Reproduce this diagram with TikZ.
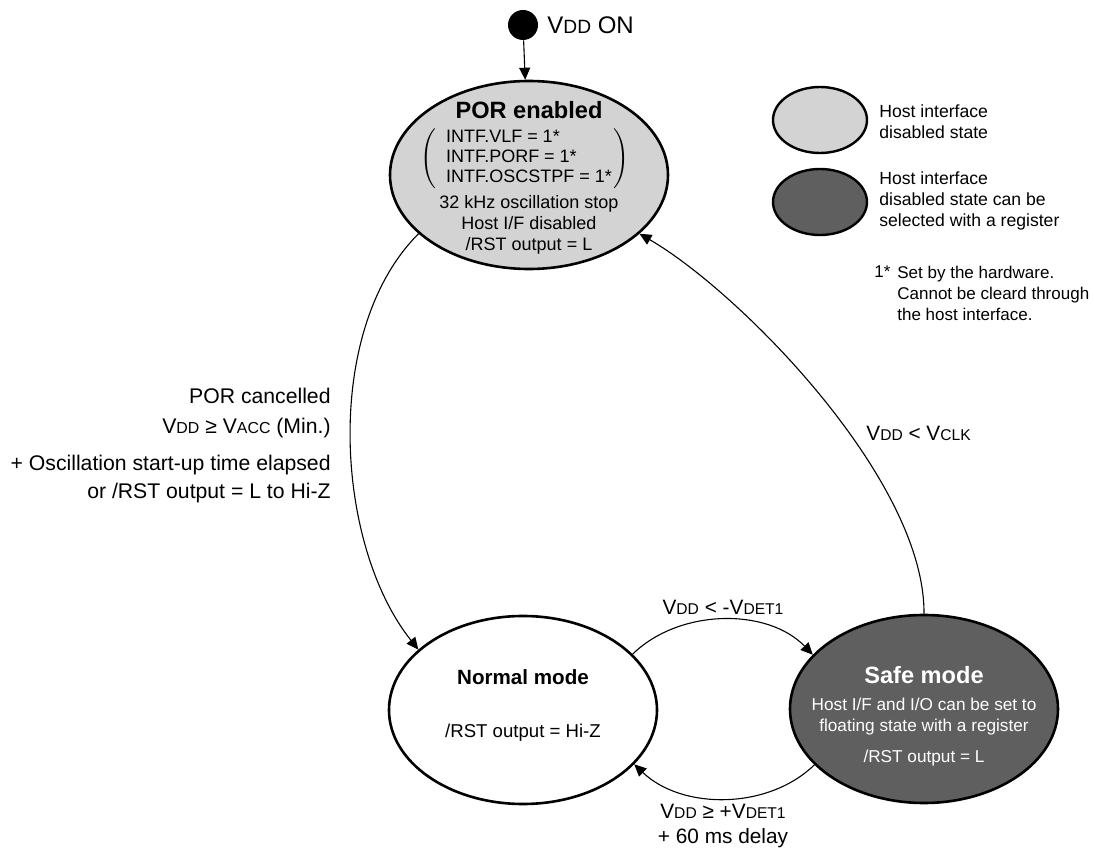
\documentclass[tikz,border=0pt]{standalone}
\usepackage{fontspec}
\setmainfont{Liberation Sans}
\usetikzlibrary{positioning,calc,shapes.geometric,arrows.meta}
\definecolor{HostOff}{RGB}{211,211,211}
\definecolor{HostSel}{RGB}{95,95,95}
\newcommand{\lowcaps}[1]{\scalebox{0.75}{#1}}
\newcommand{\Vdd}{V\lowcaps{DD}}

\begin{document}
\begin{tikzpicture}[x=0.5pt, y=-0.5pt,
        % --- STYLE ---
        % state ellipses
        state/.style={
            ellipse,
            draw=black,
            line width=1.3pt,
            minimum width=134pt,
            minimum height=94pt,
            inner sep=0pt
        },
        % small ellipses of the key
        key/.style={
            ellipse,
            draw=black,
            line width=1.2pt,
            minimum width=47pt,
            minimum height=33pt,
            inner sep=0pt
        },
        title/.style={font=\bfseries\fontsize{11.8}{13}\selectfont, inner sep=0pt},
        body/.style={font=\fontsize{9}{10.5}\selectfont, align=center, inner sep=0pt},
        note/.style={font=\fontsize{8.8}{10.5}\selectfont, align=left, anchor=west, inner sep=0pt},
        cond/.style={font=\fontsize{10.4}{12.5}\selectfont, align=center, inner sep=0pt},
        % transitions
        trans/.style={
            -{Triangle[length=6pt,width=5.5pt]},
            line width=0.55pt
        }
    ]
        \useasboundingbox (0,0) rectangle (1094,850);

        % --- STATES ---
        \node[circle, fill=black, minimum size=15pt, inner sep=0pt] (start) at (523,25) {};
        \node[cond, anchor=west, font=\fontsize{12}{14}\selectfont] (starttxt) at (547,25) {V\scalebox{0.8}{DD} ON};
        \node[state, fill=HostOff, minimum width=139pt] (por) at (529,175) {};
        \node[state, fill=white] (normal) at (523,710) {};
        \node[state, fill=HostSel] (safe) at (924,709) {};

        % POR enabled
        \node[title] (portitle) at (529,110) {POR enabled};
        \node[body, font=\fontsize{9}{10}\selectfont] (porflags) at (525,159)
            {$\left(\begin{tabular}{@{\hspace{5pt}}l@{\hspace{1pt}}}INTF.VLF = 1*\\INTF.PORF = 1*\\INTF.OSCSTPF = 1*\end{tabular}\right)$};
        \node[body] (porinfo) at (529,225) {32 kHz oscillation stop\\Host I/F disabled\\/RST output = L};

        % Normal mode
        \node[title, font=\bfseries\fontsize{10.3}{12}\selectfont] (normaltitle) at (523,677) {Normal mode};
        \node[body, font=\fontsize{9.3}{11}\selectfont] (normalrst) at (523,733) {/RST output = Hi-Z};

        % Safe mode
        \node[title, text=white] (safetitle) at (924,675) {Safe mode};
        \node[body, text=white, font=\fontsize{8.6}{10.5}\selectfont] (safeio) at (924,717) {Host I/F and I/O can be set to\\floating state with a register};
        \node[body, text=white, font=\fontsize{8.6}{10.5}\selectfont] (saferst) at (924,758) {/RST output = L};

        % --- KEY ---
        \node[key, fill=HostOff] (keyoff) at (820,120) {};
        \node[key, fill=HostSel] (keysel) at (820,202) {};
        \node[note] (keyofftxt) at (879,122) {Host interface\\disabled state};
        \node[note] (keyseltxt) at (879,201) {Host interface\\disabled state can be\\selected with a register};
        \node[note, font=\fontsize{8.5}{10.5}\selectfont] (fnmark) at (874,272) {1*};
        \node[note, font=\fontsize{8.5}{10.5}\selectfont] (fntext) at (897,293) {Set by the hardware.\\Cannot be cleard through\\the host interface.};

        % --- TRANSITIONS ---
        \draw[trans] (start) -- (por);
        \draw[trans] (por.208) .. controls (322,330) and (335,545) .. (normal.150);
        \draw[trans] (normal.27) .. controls (680,608) and (768,608) .. (safe.154);
        \draw[trans] (safe.207) .. controls (768,810) and (682,810) .. (normal.-26);
        \draw[trans] (safe.north) .. controls (925,480) and (740,292) .. (por.-28);

        % --- CONDITIONS ---
        \node[cond] (downlbl) at (723,607) {\Vdd{} < -V\lowcaps{DET1}};
        \node[cond] (uplbl) at (723,826) {\Vdd{} ≥ +V\lowcaps{DET1}\\+ 60 ms delay};
        \node[cond, anchor=west] (clklbl) at (866,433) {\Vdd{} < V\lowcaps{CLK}};
        \node[cond, align=right, anchor=east, font=\fontsize{10.6}{15}\selectfont] (porlbl) at (331,413)
            {POR cancelled\\\Vdd{} ≥ V\lowcaps{ACC} (Min.)};
        \node[cond, align=right, anchor=east, font=\fontsize{10.6}{14}\selectfont] (osclbl) at (331,479)
            {+ Oscillation start-up time elapsed\\or /RST output = L to Hi-Z};

    \end{tikzpicture}
\end{document}
